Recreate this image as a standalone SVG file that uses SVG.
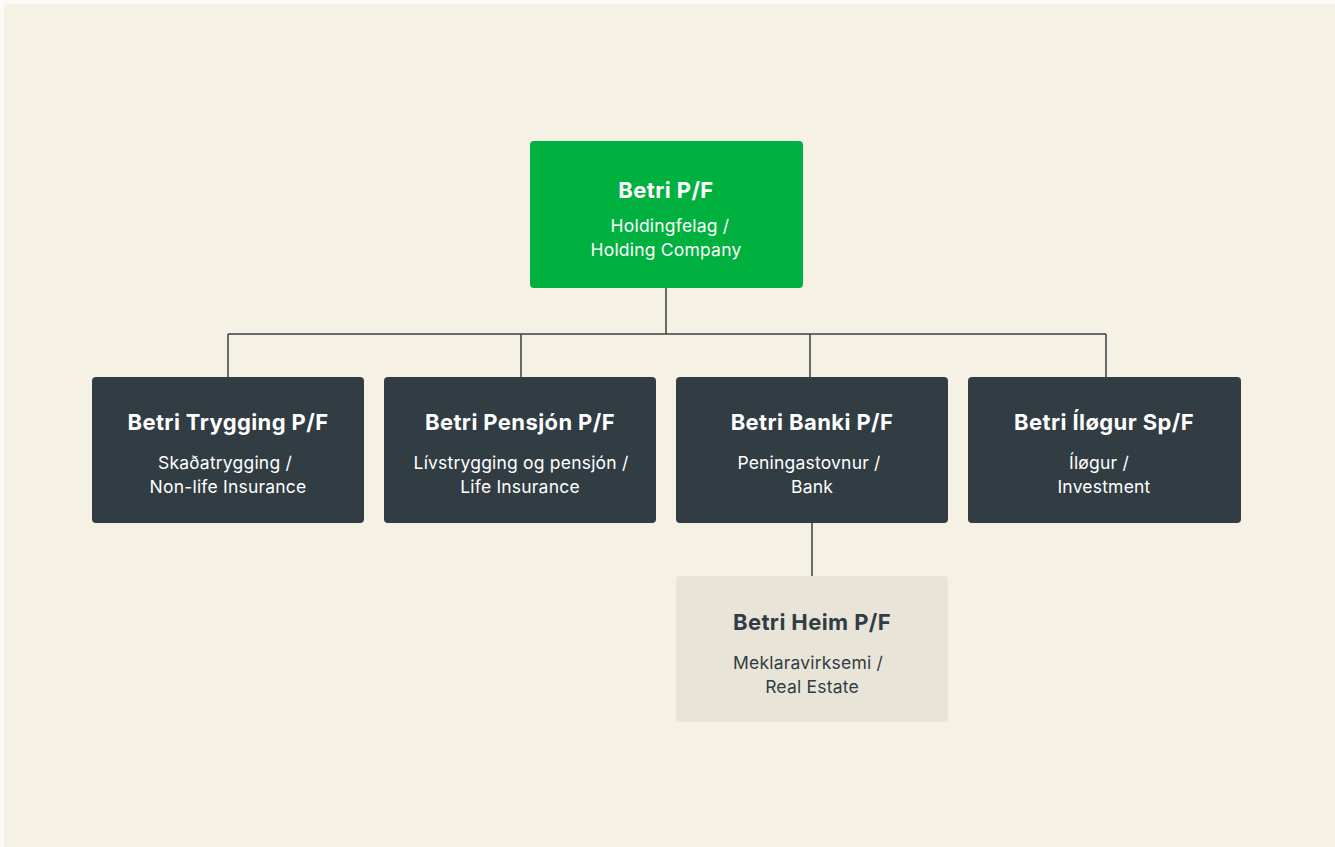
<svg xmlns="http://www.w3.org/2000/svg" width="1335" height="847" viewBox="0 0 1335 847">
<style>
.t{font-family:Inter,"Liberation Sans",sans-serif;font-weight:700;font-size:22px;letter-spacing:0.4px;text-anchor:middle}
.s{font-family:Inter,"Liberation Sans",sans-serif;font-weight:400;font-size:17.5px;letter-spacing:0.2px;text-anchor:middle}
.w{fill:#ffffff}
.d{fill:#323c43}
.box{fill:#323c43}
.ln{stroke:#3a3f42;stroke-width:1.5;fill:none}
</style>
<rect x="0" y="0" width="1335" height="847" fill="#fbfaf6"/>
<rect x="4" y="4" width="1331" height="843" fill="#f5f1e4"/>
<g id="connectors">
<path class="ln" d="M666 288 V334 M228 334 H1106 M228 334 V377 M521 334 V377 M810 334 V377 M1106 334 V377 M812 523 V576"/>
</g>
<g id="betri">
<rect x="530" y="141" width="273" height="147" rx="4" fill="#00b140"/>
<text class="t w" x="666" y="198">Betri P/F</text>
<text class="s w" x="670" y="232">Holdingfelag /</text>
<text class="s w" x="666" y="256">Holding Company</text>
</g>
<g id="trygging">
<rect class="box" x="92" y="377" width="272" height="146" rx="4"/>
<text class="t w" x="228" y="430">Betri Trygging P/F</text>
<text class="s w" x="225" y="469">Skaðatrygging /</text>
<text class="s w" x="228" y="493">Non-life Insurance</text>
</g>
<g id="pensjon">
<rect class="box" x="384" y="377" width="272" height="146" rx="4"/>
<text class="t w" x="520" y="430">Betri Pensjón P/F</text>
<text class="s w" x="521" y="469">Lívstrygging og pensjón /</text>
<text class="s w" x="520" y="493">Life Insurance</text>
</g>
<g id="banki">
<rect class="box" x="676" y="377" width="272" height="146" rx="4"/>
<text class="t w" x="812" y="430">Betri Banki P/F</text>
<text class="s w" x="809" y="469">Peningastovnur /</text>
<text class="s w" x="812" y="493">Bank</text>
</g>
<g id="ilogur">
<rect class="box" x="968" y="377" width="273" height="146" rx="4"/>
<text class="t w" x="1104" y="430">Betri Íløgur Sp/F</text>
<text class="s w" x="1099" y="469">Íløgur /</text>
<text class="s w" x="1104" y="493">Investment</text>
</g>
<g id="heim">
<rect x="676" y="576" width="272" height="146" rx="4" fill="#e8e4d8"/>
<text class="t d" x="812" y="630">Betri Heim P/F</text>
<text class="s d" x="808" y="669">Meklaravirksemi /</text>
<text class="s d" x="812" y="693">Real Estate</text>
</g>
</svg>
